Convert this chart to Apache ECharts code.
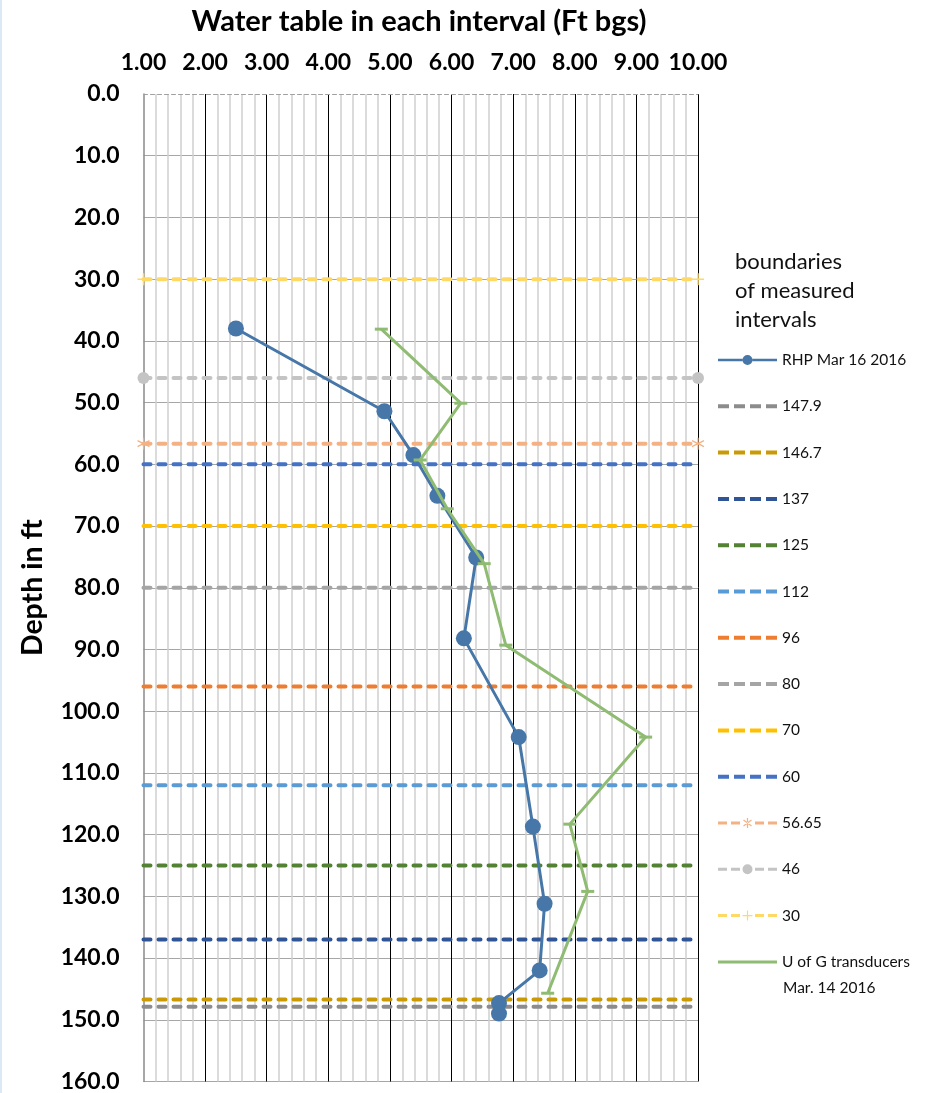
<!DOCTYPE html>
<html>
<head>
<meta charset="utf-8">
<script src="https://cdn.jsdelivr.net/npm/echarts@6/dist/echarts.min.js"></script>
<style>
  html, body { margin: 0; padding: 0; background: #fff; }
  #chart { width: 930px; height: 1093px; border-left: 2px solid #dbe8f6; box-sizing: border-box; }
</style>
</head>
<body>
<div id="chart"></div>
<script>
// Depth profile: water level in each packer interval vs. depth
const rhpDepth = [38, 51.4, 58.5, 65.1, 75.1, 88.2, 104.2, 118.7, 131.2, 142.0, 147.3, 149.0];
const rhpLevel = [2.5, 4.91, 5.38, 5.77, 6.40, 6.20, 7.09, 7.32, 7.51, 7.43, 6.77, 6.77];

const uogDepth = [38.1, 50.1, 59.3, 67.2, 76.1, 89.3, 104.2, 118.3, 129.2, 145.7];
const uogLevel = [4.86, 6.15, 5.49, 5.93, 6.53, 6.88, 9.15, 7.92, 8.21, 7.56];

// interval boundaries (ft) and their colours
const boundaryDepths = [147.9, 146.7, 137, 125, 112, 96, 80, 70, 60, 56.65, 46, 30];
const boundaryColors = ['#8c8c8c', '#c99a06', '#2f5597', '#548235', '#5b9bd5', '#ed7d31',
                        '#a5a5a5', '#ffc000', '#4472c4', '#f4b183', '#c4c4c4', '#ffd966'];

const rhpName = 'RHP Mar 16 2016';
const uogName = 'U of G transducers Mar. 14 2016';
const rhpColor = '#4677a8';
const uogColor = '#8fbc72';

const xMin = 1, xMax = 10;
const yMin = 0, yMax = 160;

const FONT = 'Lato, "Open Sans", sans-serif';

// end-point markers for three of the boundary lines
const asterisk = 'path://M0,-6 L0,6 M-5.2,-3 L5.2,3 M-5.2,3 L5.2,-3';
const plus = 'path://M0,-6 L0,6 M-6,0 L6,0';

// legend icons (59 px wide)
const iconDash = 'path://M0,0h11v4h-11Z M16,0h11v4h-11Z M32,0h11v4h-11Z M48,0h11v4h-11Z';
const thinDash = 'M0,3.5h9v3h-9Z M13,3.5h9v3h-9Z M37,3.5h9v3h-9Z M50,3.5h9v3h-9Z';
const iconRhp = 'path://M0,3.75h24.5v2.5h-24.5Z M34.5,3.75h24.5v2.5h-24.5Z M24.5,5a5,5 0 1,0 10,0a5,5 0 1,0 -10,0Z';
const iconAsterisk = 'path://' + thinDash +
  ' M28.9,0h1.2v10h-1.2Z M25.14,2.48L33.14,8.48L33.86,7.52L25.86,1.52Z M25.86,8.48L33.86,2.48L33.14,1.52L25.14,7.52Z';
const iconDot = 'path://' + thinDash + ' M24.5,5a5,5 0 1,0 10,0a5,5 0 1,0 -10,0Z';
const iconPlus = 'path://' + thinDash + ' M28.9,0h1.2v10h-1.2Z M24.5,4.4h10v1.2h-10Z';
const iconSolid = 'path://M0,0h59v3h-59Z';

function boundarySeries(depth, i) {
  let symbol = 'none', symbolSize = 0, itemStyle = {color: boundaryColors[i]};
  if (depth === 56.65) { symbol = asterisk; symbolSize = 12;
    itemStyle = {color: 'none', borderColor: boundaryColors[i], borderWidth: 1.2}; }
  if (depth === 46) { symbol = 'circle'; symbolSize = 12; }
  if (depth === 30) { symbol = plus; symbolSize = 12;
    itemStyle = {color: 'none', borderColor: boundaryColors[i], borderWidth: 1.5}; }
  return {
    name: String(depth),
    type: 'line',
    data: [[xMin, depth], [xMax, depth]],
    symbol: symbol,
    symbolSize: symbolSize,
    showSymbol: symbol !== 'none',
    itemStyle: itemStyle,
    lineStyle: {color: boundaryColors[i], width: 4, type: [7, 8], cap: 'round'},
    silent: true,
    z: 2
  };
}

function legendItem(name) {
  let icon = iconDash, color;
  if (name === rhpName) { icon = iconRhp; color = rhpColor; }
  else if (name === uogName) { icon = iconSolid; color = uogColor; }
  else {
    color = boundaryColors[boundaryDepths.indexOf(Number(name))];
    if (name === '56.65') icon = iconAsterisk;
    if (name === '46') icon = iconDot;
    if (name === '30') icon = iconPlus;
  }
  return {name: name, icon: icon, itemStyle: {color: color, borderWidth: 0}, lineStyle: {width: 0}};
}

const chart = echarts.init(document.getElementById('chart'), null, {renderer: 'canvas'});

const series = [
  {
    name: rhpName,
    type: 'line',
    data: rhpLevel.map((v, i) => [v, rhpDepth[i]]),
    symbol: 'circle',
    symbolSize: 16,
    itemStyle: {color: rhpColor},
    lineStyle: {color: rhpColor, width: 3},
    z: 5
  },
  ...boundaryDepths.map(boundarySeries),
  {
    name: uogName,
    type: 'line',
    data: uogLevel.map((v, i) => [v, uogDepth[i]]),
    symbol: 'rect',
    symbolSize: [13, 3],
    itemStyle: {color: uogColor},
    lineStyle: {color: uogColor, width: 3},
    z: 6
  }
];

chart.setOption({
  animation: false,
  title: {
    text: 'Water table in each interval (Ft bgs)',
    left: 412, top: 2, textAlign: 'center',
    textStyle: {fontFamily: FONT, fontWeight: 'bold', fontSize: 29, color: '#000'}
  },
  graphic: [{
    type: 'text',
    x: 733, y: 291,
    style: {
      text: 'boundaries\nof measured\nintervals',
      fontFamily: FONT, fontSize: 22, lineHeight: 29, fill: '#111',
      verticalAlign: 'middle'
    }
  }, {
    type: 'text',
    x: 781, y: 988,
    style: {
      text: 'Mar. 14 2016',
      fontFamily: FONT, fontSize: 15.5, fill: '#111',
      verticalAlign: 'middle'
    }
  }],
  legend: {
    orient: 'vertical',
    left: 716, top: 348, padding: 0,
    itemWidth: 59, itemHeight: 14, itemGap: 22.3,
    symbolKeepAspect: true,
    textStyle: {fontFamily: FONT, fontSize: 15.5, color: '#111', lineHeight: 24},
    formatter: name => name === uogName ? 'U of G transducers' : name,
    data: series.map(s => legendItem(s.name))
  },
  grid: {left: 141.5, right: 232, top: 94, bottom: 8, containLabel: false},
  xAxis: {
    type: 'value', position: 'top',
    min: xMin, max: xMax, interval: 1,
    axisLine: {show: true, lineStyle: {color: '#a0a0a0', width: 1, type: [4, 3]}},
    axisTick: {show: false},
    axisLabel: {
      margin: 20, color: '#000',
      fontFamily: FONT, fontWeight: 'bold', fontSize: 23,
      formatter: v => v.toFixed(2)
    },
    splitLine: {show: true, showMinLine: false, lineStyle: {color: '#000', width: 1}},
    minorTick: {show: false, splitNumber: 5},
    minorSplitLine: {show: true, lineStyle: {color: '#d0d0d0', width: 1.5}}
  },
  yAxis: {
    type: 'value', inverse: true,
    min: yMin, max: yMax, interval: 10,
    name: 'Depth in ft', nameLocation: 'middle', nameRotate: 90, nameGap: 96,
    nameTextStyle: {fontFamily: FONT, fontWeight: 'bold', fontSize: 28.5, color: '#000'},
    axisLine: {show: true, lineStyle: {color: '#8a8a8a', width: 1.5}},
    axisTick: {show: false},
    axisLabel: {
      margin: 24, color: '#000',
      fontFamily: FONT, fontWeight: 'bold', fontSize: 23,
      formatter: v => v.toFixed(1)
    },
    splitLine: {show: true, showMinLine: false, lineStyle: {color: '#a6a6a6', width: 1.2}}
  },
  series: series
});
</script>
</body>
</html>
